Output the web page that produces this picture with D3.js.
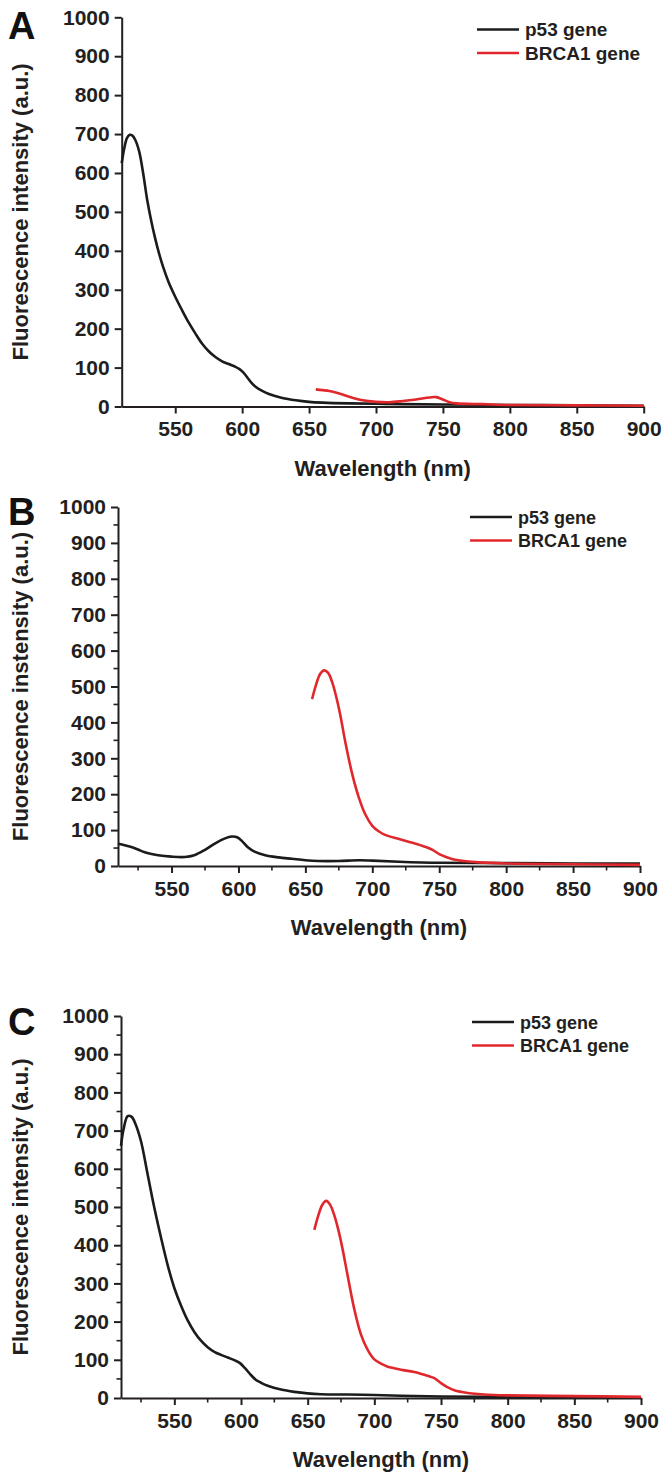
<!DOCTYPE html>
<html>
<head>
<meta charset="utf-8">
<script src="https://cdn.jsdelivr.net/npm/d3@7"></script>
<style>
  html, body { margin: 0; padding: 0; background: #fff; }
  svg { display: block; font-family: "Liberation Sans", Arial, sans-serif; }
</style>
</head>
<body>
<svg id="chart" width="667" height="1478"></svg>
<script>
// ---------- data (wavelength nm, intensity a.u.) ----------
const seriesNames = ["p53 gene", "BRCA1 gene"];
const panelLetters = ["A", "B", "C"];
const yTitles = ["Fluorescence intensity (a.u.)", "Fluorescence instensity (a.u.)", "Fluorescence intensity (a.u.)"];
const xTitle = "Wavelength (nm)";
const xTicks = [550, 600, 650, 700, 750, 800, 850, 900];
const yTicks = [0, 100, 200, 300, 400, 500, 600, 700, 800, 900, 1000];

const aP53 = [[510,625],[512,665],[514,690],[516,698],[518,696],[520,686],[523,656],[526,600],[529,532],[532,478],[535,432],[538,392],[541,358],[545,320],[550,282],[555,248],[560,216],[565,188],[570,162],[575,142],[580,127],[585,116],[590,109],[595,102],[598,96],[601,87],[604,74],[607,61],[610,51],[615,40],[620,32],[630,22],[640,16],[650,12],[660,10],[680,8],[700,7],[720,6],[750,5],[800,4],[850,3],[900,2]];
const aBRCA1 = [[655,44],[660,42],[665,40],[670,36],[675,31],[680,25],[690,16],[700,12],[710,11],[720,14],[730,18],[740,23],[745,24],[750,18],[755,11],[760,8],[780,6],[800,4],[850,3],[900,2]];

const bP53 = [[510,62],[515,58],[520,53],[525,46],[530,38],[540,30],[550,26],[560,25],[567,30],[575,45],[583,64],[590,77],[595,82],[599,80],[603,68],[607,52],[612,40],[620,30],[630,24],[640,20],[650,16],[660,14],[675,14],[690,16],[700,15],[720,12],[750,9],[800,8],[850,7],[900,7]];
const bBRCA1 = [[655,465],[658,505],[661,535],[664,545],[667,538],[670,512],[673,472],[676,422],[680,342],[685,256],[690,190],[695,142],[700,112],[705,96],[710,86],[720,75],[730,65],[740,53],[745,45],[750,33],[755,25],[760,19],[770,13],[780,10],[800,7],[850,5],[900,3]];

const cP53 = [[510,660],[512,705],[515,738],[518,736],[521,716],[525,672],[530,585],[535,498],[540,420],[545,348],[550,288],[555,242],[560,203],[565,173],[570,150],[575,133],[580,121],[585,113],[590,106],[595,99],[599,92],[603,78],[607,62],[611,48],[615,40],[620,32],[630,22],[640,16],[650,12],[660,10],[680,9],[700,8],[720,6],[750,4],[800,3],[850,2],[900,2]];
const cBRCA1 = [[655,440],[658,478],[661,506],[664,516],[667,505],[670,478],[673,440],[676,393],[680,320],[685,232],[690,166],[695,126],[700,101],[705,90],[710,82],[715,78],[720,74],[730,68],[740,58],[745,52],[750,39],[755,28],[760,20],[770,13],[780,10],[790,8],[800,7],[850,5],[900,3]];

const panelData = [[aP53, aBRCA1], [bP53, bBRCA1], [cP53, cBRCA1]];

// ---------- layout ----------
const colors = ["#1b1b1b", "#e0282c"];
const textColor = "#231f20";
const panels = [
  { x0: 121.7, x1: 643.7, yTop: 17.3, yBot: 406.5, minor: false, letterY: 39, legX: 477, legY: 29.5, legFont: 19 },
  { x0: 118,   x1: 640,   yTop: 507,  yBot: 866,   minor: true,  letterY: 525, legX: 470, legY: 517, legFont: 18 },
  { x0: 121,   x1: 641,   yTop: 1016, yBot: 1398,  minor: true,  letterY: 1035, legX: 472, legY: 1022, legFont: 18 }
];

const svg = d3.select("#chart");

panels.forEach((p, i) => {
  const g = svg.append("g");
  const x = d3.scaleLinear().domain([510, 900]).range([p.x0, p.x1]);
  const y = d3.scaleLinear().domain([0, 1000]).range([p.yBot, p.yTop]);

  // minor ticks
  if (p.minor) {
    const xm = d3.range(525, 900, 50);
    const ym = d3.range(50, 1000, 100);
    g.selectAll(".xm").data(xm).join("line")
      .attr("x1", d => x(d)).attr("x2", d => x(d))
      .attr("y1", p.yBot).attr("y2", p.yBot + 4.5)
      .attr("stroke", textColor).attr("stroke-width", 1.6);
    g.selectAll(".ym").data(ym).join("line")
      .attr("y1", d => y(d)).attr("y2", d => y(d))
      .attr("x1", p.x0).attr("x2", p.x0 - 4.5)
      .attr("stroke", textColor).attr("stroke-width", 1.6);
  }

  // axes
  const xAxis = d3.axisBottom(x).tickValues(xTicks).tickSize(7).tickPadding(8).tickSizeOuter(0).tickFormat(d3.format("d"));
  const yAxis = d3.axisLeft(y).tickValues(yTicks).tickSize(7).tickPadding(5).tickSizeOuter(0).tickFormat(d3.format("d"));

  const gx = g.append("g").attr("transform", `translate(0,${p.yBot})`).call(xAxis);
  const gy = g.append("g").attr("transform", `translate(${p.x0},0)`).call(yAxis);
  [gx, gy].forEach(a => {
    a.select(".domain").attr("stroke", textColor).attr("stroke-width", 2);
    a.selectAll(".tick line").attr("stroke", textColor).attr("stroke-width", 2);
    a.selectAll(".tick text").attr("fill", textColor)
      .style("font-size", "21px").style("font-weight", "bold")
      .style("font-family", '"Liberation Sans", Arial, sans-serif');
  });

  // lines
  const line = d3.line().x(d => x(d[0])).y(d => y(d[1])).curve(d3.curveCatmullRom.alpha(0.5));
  panelData[i].forEach((s, k) => {
    g.append("path").datum(s)
      .attr("d", line)
      .attr("fill", "none")
      .attr("stroke", colors[k])
      .attr("stroke-width", 2.6)
      .attr("stroke-linejoin", "round");
  });

  // axis titles
  g.append("text")
    .attr("x", (p.x0 + p.x1) / 2).attr("y", p.yBot + 69)
    .attr("text-anchor", "middle")
    .attr("fill", textColor)
    .style("font-size", "22px").style("font-weight", "bold")
    .text(xTitle);

  g.append("text")
    .attr("transform", `translate(28,${(p.yTop + p.yBot) / 2}) rotate(-90)`)
    .attr("text-anchor", "middle")
    .attr("fill", textColor)
    .style("font-size", "22px").style("font-weight", "bold")
    .text(yTitles[i]);

  // panel letter
  g.append("text")
    .attr("x", 8).attr("y", p.letterY)
    .attr("fill", "#111")
    .style("font-size", "38px").style("font-weight", "bold")
    .text(panelLetters[i]);

  // legend
  seriesNames.forEach((name, k) => {
    const ly = p.legY + k * 23.5;
    g.append("line")
      .attr("x1", p.legX).attr("x2", p.legX + 42)
      .attr("y1", ly).attr("y2", ly)
      .attr("stroke", colors[k]).attr("stroke-width", 2.6);
    g.append("text")
      .attr("x", p.legX + 48).attr("y", ly + 6.5)
      .attr("fill", textColor)
      .style("font-size", p.legFont + "px").style("font-weight", "bold")
      .text(name);
  });
});
</script>
</body>
</html>
